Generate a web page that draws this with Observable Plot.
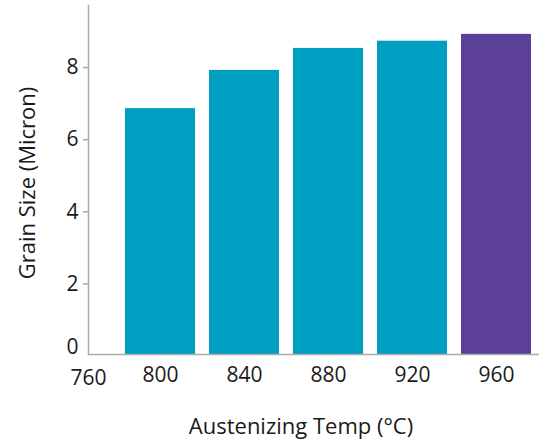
<!DOCTYPE html>
<html>
<head>
<meta charset="utf-8">
<script src="https://cdn.jsdelivr.net/npm/d3@7"></script>
<script src="https://cdn.jsdelivr.net/npm/@observablehq/plot@0.6"></script>
<style>
  html, body { margin: 0; padding: 0; background: #fff; }
  #chart { width: 551px; height: 441px; }
</style>
</head>
<body>
<div id="chart"></div>
<script>
const temps = ["800", "840", "880", "920", "960"];
const grainSize = [6.82, 7.88, 8.49, 8.69, 8.88];
const barColors = ["#009fc2", "#009fc2", "#009fc2", "#009fc2", "#5c3f98"];
const yTicks = [2, 4, 6, 8];
const yZeroTick = [0];
const xStartLabel = ["760"];
const xTitle = ["Austenizing Temp (°C)"];
const yTitle = ["Grain Size (Micron)"];

const data = temps.map((t, i) => ({temp: t, size: grainSize[i], color: barColors[i]}));

const font = "'Open Sans', 'Noto Sans', sans-serif";
const axisColor = "#aaaaaa";
const ink = "#1a1a1a";

const chart = Plot.plot({
  width: 551,
  height: 441,
  marginLeft: 88,
  marginRight: 12,
  marginTop: 5,
  marginBottom: 87,
  style: {fontFamily: font, fontSize: "21px", color: ink, background: "#fff"},
  x: {domain: temps, paddingInner: 0.1716, paddingOuter: 0.254, align: 0.814},
  y: {domain: [0, 9.68]},
  marks: [
    Plot.barY(data, {x: "temp", y: "size", fill: "color"}),
    Plot.ruleY([0], {stroke: axisColor, strokeWidth: 1.5}),
    Plot.frame({anchor: "left", stroke: axisColor, strokeWidth: 1.5}),
    Plot.axisY(yTicks, {tickSize: 5, tickPadding: 5, stroke: axisColor, strokeWidth: 1.5, fontSize: 21, label: null, fill: ink, dy: 1.5}),
    Plot.axisY(yZeroTick, {tickSize: 0, tickPadding: 10, fontSize: 21, label: null, fill: ink, dy: -7}),
    Plot.axisX({tickSize: 0, tickPadding: 13, fontSize: 21, label: null, fill: ink}),
    Plot.text(xStartLabel, {frameAnchor: "bottom-left", dy: 24, textAnchor: "middle", lineAnchor: "middle", fontSize: 21, fill: ink}),
    Plot.text(xTitle, {frameAnchor: "bottom", dx: -13, dy: 72, textAnchor: "middle", lineAnchor: "middle", fontSize: 22, fill: ink}),
    Plot.text(yTitle, {frameAnchor: "left", dx: -61, dy: 3, rotate: -90, textAnchor: "middle", lineAnchor: "middle", fontSize: 22, fill: ink})
  ]
});
document.getElementById("chart").appendChild(chart);
</script>
</body>
</html>
